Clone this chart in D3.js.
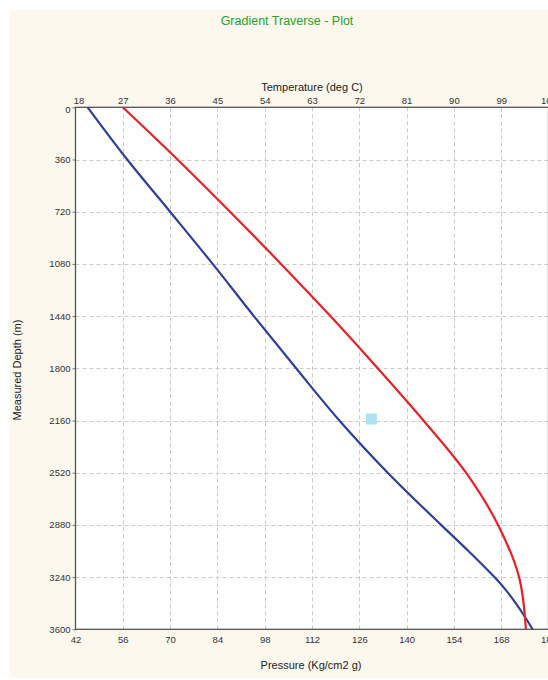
<!DOCTYPE html>
<html>
<head>
<meta charset="utf-8">
<script src="https://cdn.jsdelivr.net/npm/d3@7"></script>
<style>
  html, body { margin: 0; padding: 0; background: #ffffff; }
  svg { display: block; }
  text { font-family: "Liberation Sans", Arial, sans-serif; }
</style>
</head>
<body>
<svg id="chart" width="548" height="680"></svg>
<script>
// ---- Data ----
const depthTicks = [0, 360, 720, 1080, 1440, 1800, 2160, 2520, 2880, 3240, 3600];
const tempTicks = [18, 27, 36, 45, 54, 63, 72, 81, 90, 99, 108];
const pressureTicks = [42, 56, 70, 84, 98, 112, 126, 140, 154, 168, 182];

// Pressure profile (Kg/cm2 g) vs measured depth (m) - blue
const pressureDepth = [0, 360, 720, 1080, 1440, 1800, 2160, 2520, 2880, 3060, 3240, 3330, 3420, 3510, 3600];
const pressureValue = [45.6, 57.3, 70.0, 82.6, 94.8, 107.3, 120.1, 134.4, 150.2, 158.3, 166.0, 169.4, 172.3, 174.9, 177.3];

// Temperature profile (deg C) vs measured depth (m) - red
const tempDepth = [0, 360, 720, 1080, 1440, 1800, 2160, 2520, 2880, 3240, 3600];
const tempValue = [27.0, 37.4, 47.4, 57.1, 66.5, 75.5, 84.2, 92.3, 98.4, 102.4, 103.7];

// Single measured point (light blue square)
const pointDepth = [2150];
const pointTemp = [74.3];

// ---- Layout ----
const svg = d3.select("#chart");
const W = 548, H = 680;
const pLeft = 75.5, pRight = 548.5, pTop = 107.3, pBottom = 629.3;

// cream background panel
svg.append("rect").attr("x", 10).attr("y", 10).attr("width", W - 10).attr("height", 668)
  .attr("fill", "#fcf8ee");

const y = d3.scaleLinear().domain([0, 3600]).range([pTop, pBottom]);
const xT = d3.scaleLinear().domain([18, 108]).range([pLeft, pRight]);
const xP = d3.scaleLinear().domain([42, 182]).range([pLeft, pRight]);

// plot area
svg.append("rect").attr("x", pLeft).attr("y", pTop).attr("width", pRight - pLeft).attr("height", pBottom - pTop)
  .attr("fill", "#ffffff");

// grid
const grid = svg.append("g").attr("stroke", "#cacaca").attr("stroke-width", 1).attr("stroke-dasharray", "4,3");
grid.selectAll("line.v").data(tempTicks.slice(1, -1)).join("line").attr("class", "v")
  .attr("x1", d => Math.round(xT(d)) + 0.5).attr("x2", d => Math.round(xT(d)) + 0.5)
  .attr("y1", pTop).attr("y2", pBottom);
grid.selectAll("line.h").data(depthTicks.slice(1, -1)).join("line").attr("class", "h")
  .attr("x1", pLeft).attr("x2", pRight)
  .attr("y1", d => Math.round(y(d)) + 0.5).attr("y2", d => Math.round(y(d)) + 0.5);

// axes
const tickFont = "9.5px";
const leftAxis = svg.append("g").attr("transform", `translate(${pLeft},0)`)
  .call(d3.axisLeft(y).tickValues(depthTicks).tickSize(3).tickPadding(2).tickFormat(d3.format("d")));
const topAxis = svg.append("g").attr("transform", `translate(0,${pTop})`)
  .call(d3.axisTop(xT).tickValues(tempTicks).tickSize(0).tickPadding(3).tickFormat(d3.format("d")));
const bottomAxis = svg.append("g").attr("transform", `translate(0,${pBottom})`)
  .call(d3.axisBottom(xP).tickValues(pressureTicks).tickSize(0).tickPadding(7).tickFormat(d3.format("d")));

[leftAxis, topAxis, bottomAxis].forEach(a => {
  a.select(".domain").remove();
  a.selectAll("text").attr("fill", "#333").style("font-size", tickFont);
  a.selectAll("line").attr("stroke", "#777");
});
// nudge the first labels as in the reference
topAxis.selectAll(".tick").filter(d => d === 18).select("text").attr("dx", 3);
leftAxis.selectAll(".tick").filter(d => d === 0).select("text").attr("dy", "0.55em");

// plot border
svg.append("rect").attr("x", pLeft).attr("y", pTop).attr("width", pRight - pLeft).attr("height", pBottom - pTop)
  .attr("fill", "none").attr("stroke", "#555").attr("stroke-width", 1.3);

// curves
const pLine = d3.line().x(d => xP(d[1])).y(d => y(d[0])).curve(d3.curveCatmullRom.alpha(0.5));
const tLine = d3.line().x(d => xT(d[1])).y(d => y(d[0])).curve(d3.curveCatmullRom.alpha(0.5));

svg.append("path").datum(d3.zip(pressureDepth, pressureValue))
  .attr("d", pLine).attr("fill", "none").attr("stroke", "#2e3f9e").attr("stroke-width", 2.2);
svg.append("path").datum(d3.zip(tempDepth, tempValue))
  .attr("d", tLine).attr("fill", "none").attr("stroke", "#ee1f24").attr("stroke-width", 2.2);

// measured point
svg.selectAll("rect.pt").data(d3.zip(pointDepth, pointTemp)).join("rect").attr("class", "pt")
  .attr("x", d => xT(d[1]) - 5.5).attr("y", d => y(d[0]) - 5.5)
  .attr("width", 11).attr("height", 11).attr("fill", "#aee0f6");

// titles
svg.append("text").attr("x", 287).attr("y", 25).attr("text-anchor", "middle")
  .attr("fill", "#22a52a").style("font-size", "12.5px").text("Gradient Traverse - Plot");
svg.append("text").attr("x", 312).attr("y", 91).attr("text-anchor", "middle")
  .attr("fill", "#222").style("font-size", "11px").text("Temperature  (deg C)");
svg.append("text").attr("x", 311).attr("y", 669).attr("text-anchor", "middle")
  .attr("fill", "#222").style("font-size", "11px").text("Pressure  (Kg/cm2 g)");
svg.append("text").attr("transform", "translate(21,370) rotate(-90)").attr("text-anchor", "middle")
  .attr("fill", "#222").style("font-size", "11px").text("Measured Depth  (m)");
</script>
</body>
</html>
